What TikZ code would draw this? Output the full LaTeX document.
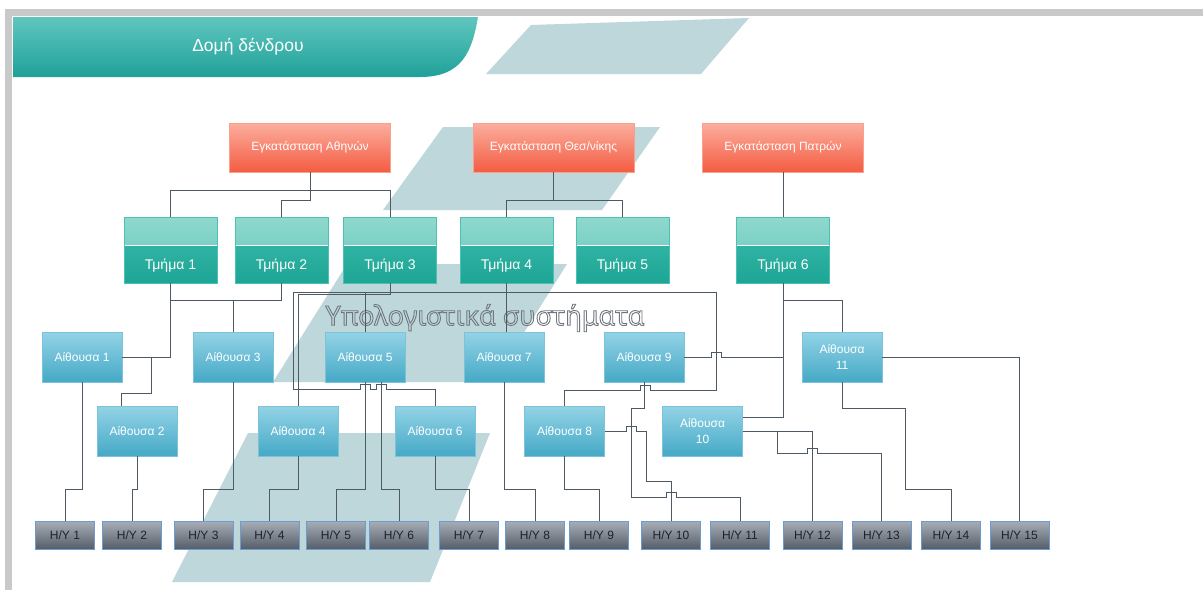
\documentclass[tikz,border=0pt]{standalone}
\usepackage{fontspec}
\setmainfont{Liberation Sans}
\newfontfamily\bannerfont{Noto Sans}
\usetikzlibrary{positioning,calc}
\definecolor{framegray}{HTML}{C9C9C9}
\definecolor{headtop}{HTML}{5FC6BF}
\definecolor{headbot}{HTML}{20A199}
\definecolor{panelcol}{HTML}{BED7DA}
\definecolor{insttop}{HTML}{FBAE9E}
\definecolor{instbot}{HTML}{F45C42}
\definecolor{instline}{HTML}{F8A28E}
\definecolor{depthi1}{HTML}{90D8CE}
\definecolor{depthi2}{HTML}{5EC8BA}
\definecolor{deptlo1}{HTML}{3DBDAE}
\definecolor{deptlo2}{HTML}{1EA595}
\definecolor{deptline}{HTML}{4CC0B2}
\definecolor{roomtop}{HTML}{93D3E6}
\definecolor{roombot}{HTML}{45A9C6}
\definecolor{roomline}{HTML}{7CC3DA}
\definecolor{hytop}{HTML}{A7AEB7}
\definecolor{hybot}{HTML}{565E69}
\definecolor{hyline}{HTML}{6E9BD0}
\definecolor{hytext}{HTML}{1E2328}
\definecolor{conline}{HTML}{4F5963}
\definecolor{outline}{HTML}{6F767E}
% hollow (stroked) letters through xdvipdfmx
\newcommand{\hollow}[1]{\special{pdf:literal direct 1 Tr 0.9 w}#1\special{pdf:literal direct 0 Tr 0.4 w}}

\begin{document}
\begin{tikzpicture}[x=1pt,y=-1pt,
  font=\fontsize{12}{14}\selectfont,
  panel/.style={fill=panelcol},
  inst/.style={draw=instline,top color=insttop,bottom color=instbot,minimum width=161pt,minimum height=49pt,inner sep=0pt,text=white},
  dept/.style={draw=deptline,top color=deptlo1,bottom color=deptlo2,minimum width=93pt,minimum height=66pt,inner sep=0pt,text=white,text height=42pt,text depth=4pt,font=\fontsize{14}{16}\selectfont,
    path picture={\shade[top color=depthi1,bottom color=depthi2] (path picture bounding box.north west) rectangle ([yshift=-28pt]path picture bounding box.north east);
      \draw[white,line width=0.8pt] ([yshift=-28pt]path picture bounding box.north west) -- ([yshift=-28pt]path picture bounding box.north east);}},
  room/.style={draw=roomline,top color=roomtop,bottom color=roombot,minimum width=80pt,minimum height=50pt,inner sep=0pt,align=center,text=white,font=\fontsize{12}{16}\selectfont},
  hy/.style={draw=hyline,top color=hytop,bottom color=hybot,minimum width=59pt,minimum height=28pt,inner sep=0pt,text=hytext},
  con/.style={draw=conline,line width=0.9pt}]

\useasboundingbox (0,0) rectangle (1203,590);
\fill[white] (0,0) rectangle (1203,590);

% window frame
\fill[framegray] (5,9) rectangle (1203,16);
\fill[framegray] (5,9) rectangle (12,590);

% header and background panels
\shade[top color=headtop,bottom color=headbot] (13,17) -- (478,17) .. controls (472,52) and (462,77) .. (420,77) -- (13,77) -- cycle;
\node[text=white,font=\fontsize{17.5}{20}\selectfont] (title) at (248,47) {Δομή δένδρου};
\path[panel] (531,25) -- (749,18) -- (701,74) -- (486,74) -- cycle;
\path[panel] (443,127) -- (660,127) -- (602,210) -- (383,210) -- cycle;
\path[panel] (347,264) -- (567,264) -- (493,382) -- (273,382) -- cycle;
\path[panel] (248,433) -- (490,433) -- (430,582) -- (172,582) -- cycle;

\node[text=outline,font=\bannerfont\fontsize{27}{30}\selectfont] (comp) at (485,318) {\hollow{Υπολογιστικά συστήματα}};

% boxes
\node[inst] (ath) at (310,147.5) {Εγκατάσταση Αθηνών};
\node[inst] (the) at (553.5,147.5) {Εγκατάσταση Θεσ/νίκης};
\node[inst] (pat) at (783,147.5) {Εγκατάσταση Πατρών};

\foreach \n/\x in {1/170.5,2/281.5,3/390,4/506.5,5/622.5,6/783}
  \node[dept] (t\n) at (\x,250) {Τμήμα \n};

\foreach \n/\x/\y in {1/82/357,2/137/431,3/233/357,4/298/431,5/365/357,6/435/431,7/504/357,8/564.5/431,9/644/357}
  \node[room] (a\n) at (\x,\y) {Αίθουσα \n};
\node[room] (a10) at (702.5,431) {Αίθουσα\\10};
\node[room] (a11) at (842,357) {Αίθουσα\\11};

\foreach \x [count=\i] in {65,132,203.5,269.5,336,399,469,535,599,671,740,812.5,881.5,951,1019.5}
  \node[hy] (h\i) at (\x,535) {H/Y \i};
\coordinate (hyrow) at (0,489);

% sites -> departments
\draw[con] (ath.south) -- ++(0,18) -| (t1.north);
\draw[con] (ath.south) -- ++(0,18) -| (t3.north);
\draw[con] (ath.south) -- ++(0,28) -| (t2.north);
\draw[con] (the.south) -- ++(0,28) -| (t4.north);
\draw[con] (the.south) -- ++(0,28) -| (t5.north);
\draw[con] (pat) -- (t6);

% departments -> rooms
\draw[con] (t1.south) |- (a1.east);
\draw[con] (t1.south) |- (151,357) |- (121,393) -- ([xshift=-16pt]a2.north);
\draw[con] (t1.south) -- ++(0,17) -| (a3.north);
\draw[con] (t2.south) -- ++(0,17) -| (a3.north);
\draw[con] (t3.south) -- ++(0,9) -| (a5.north);
\draw[con] (t3.south) -- ++(0,11) -| (a4.north);
\draw[con] (t3.south) -- ++(0,9) -| (293,389) -- (360,389) -- (360,384) -- (370,384) -- (370,389)
  -- (376,389) -- (376,384) -- (386,384) -- (386,389) -| (a6.north);
\draw[con] (t3.south) -- ++(0,9) -| (716,390) -- (650,390) -- (650,385) -- (640,385) -- (640,390) -| (a8.north);
\draw[con] (t4.south) -- (t4.south |- a7.north);
\draw[con] (t6.south) |- ([yshift=14pt]a10.east);
\draw[con] (t6.south) -- ++(0,17) -| (a11.north);
\draw[con] (t6.south) |- (721,357) -- (721,352) -- (711,352) -- (711,357) -- (a9.east);

% rooms -> computers
\foreach \a/\h in {a1/h1,a2/h2,a3/h3,a4/h4,a5/h5,a6/h7,a7/h8,a8/h9}
  \draw[con] (\a.south) |- (\h.north |- hyrow) -- (\h.north);
\draw[con] ([xshift=16pt]a5.south) |- (h6.north |- hyrow) -- (h6.north);
\draw[con] (a9.south) -- (644,408) -| (631,497) -- (666,497) -- (666,492) -- (676,492) -- (676,497) -| (h11.north);
\draw[con] (a8.east) -- (626,431) -- (626,426) -- (636,426) -- (636,431) -| (646,481) -| (h10.north);
\draw[con] (a10.east) -| (h12.north);
\draw[con] (a10.east) -- (777,431) |- (807,453) -- (807,448) -- (817,448) -- (817,453) -| (h13.north);
\draw[con] (a11.south) |- (905,408) |- (h14.north |- hyrow) -- (h14.north);
\draw[con] (a11.east) -| (h15.north);
\end{tikzpicture}
\end{document}
